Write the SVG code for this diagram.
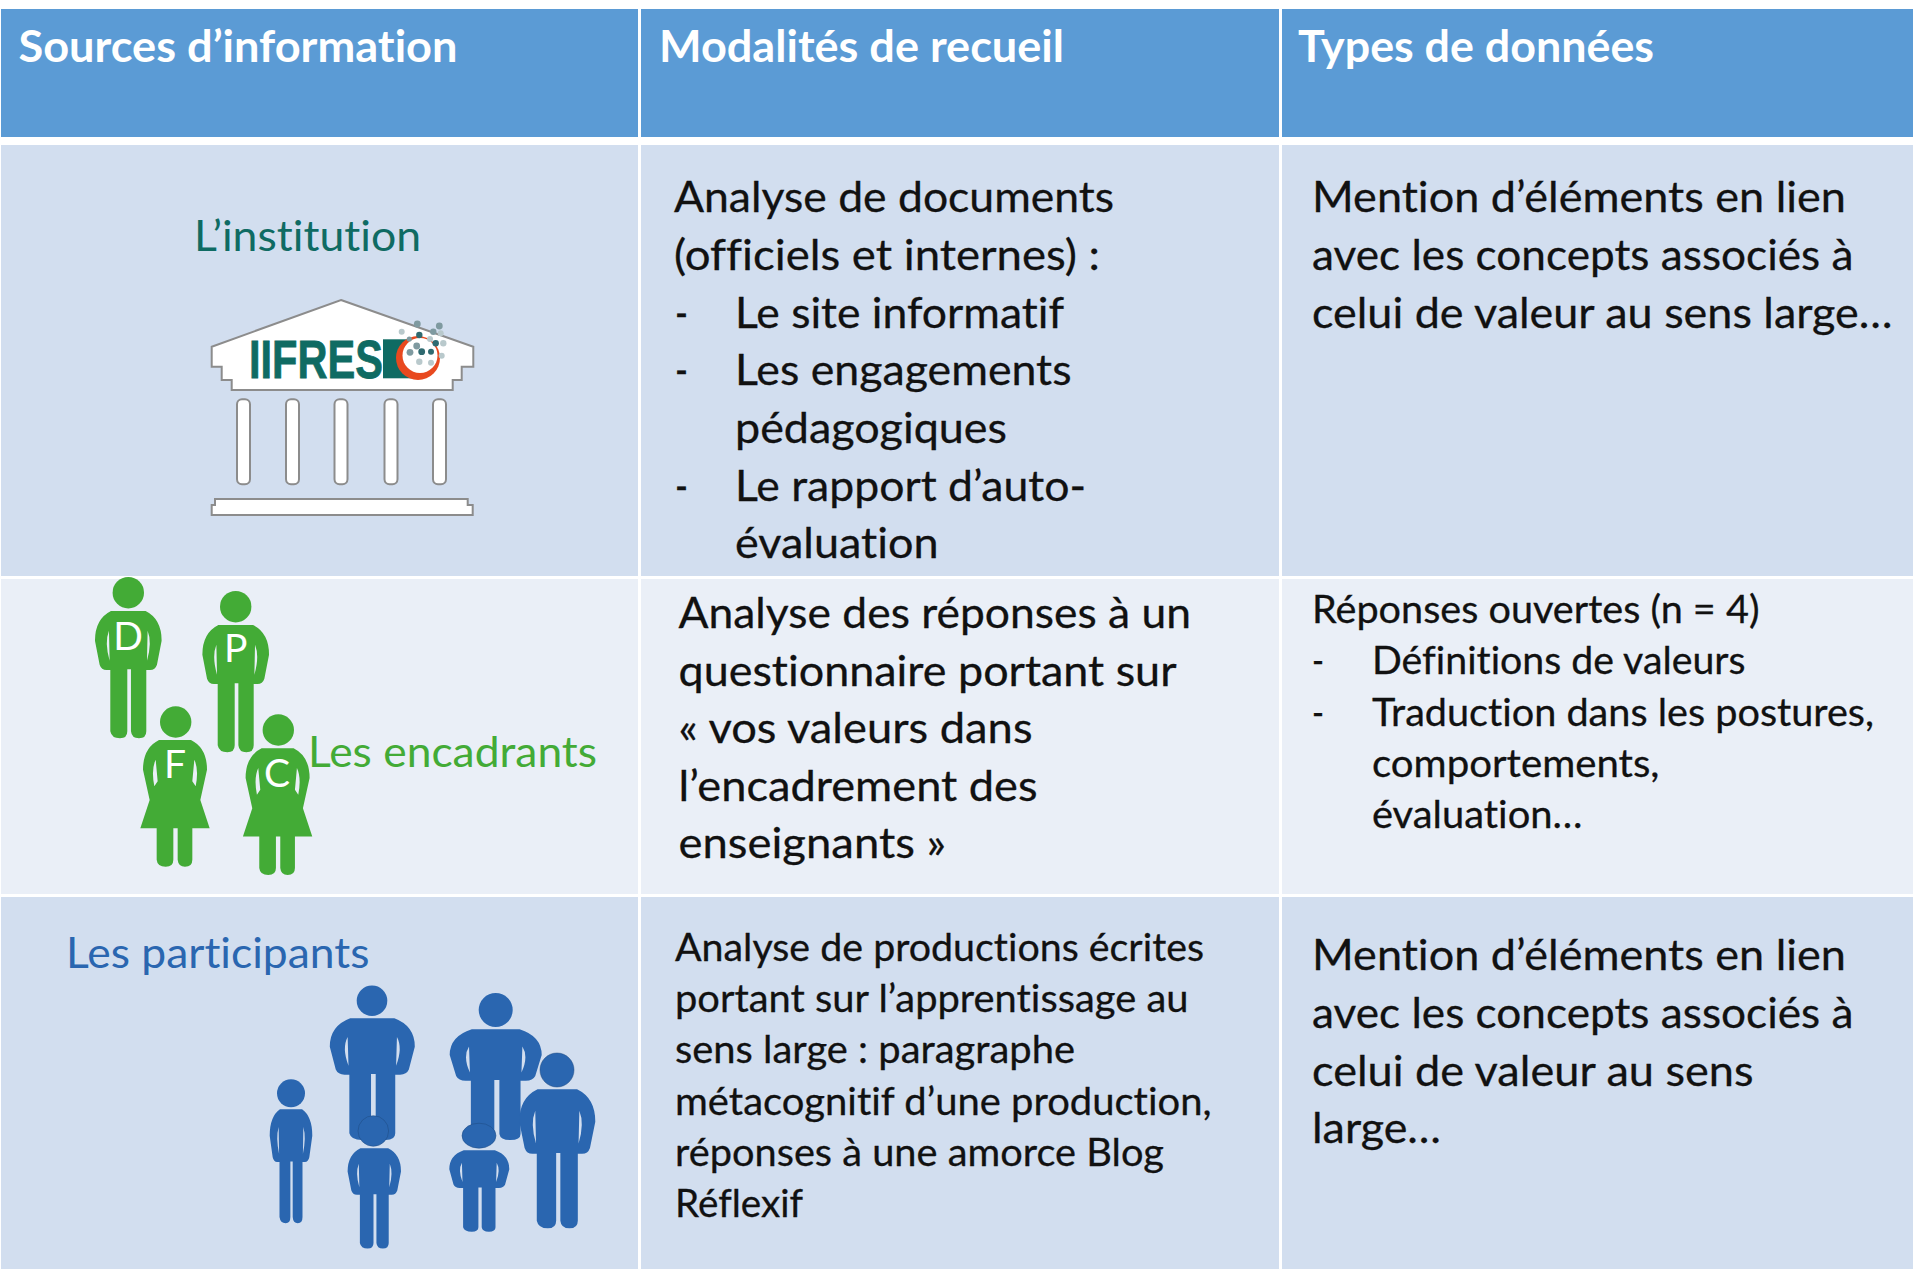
<svg xmlns="http://www.w3.org/2000/svg" width="1913" height="1271" viewBox="0 0 1913 1271">
<style>
text{font-family:Lato,"Open Sans","Noto Sans",sans-serif;font-variant-ligatures:none}
.h{font-size:43px;font-weight:700;fill:#fff}
.b{font-size:43px;fill:#111;stroke:#111;stroke-width:.3}
.s{font-size:38.5px;fill:#111;stroke:#111;stroke-width:.3}
.hd{fill:#5b9bd5}.r1{fill:#d2deef}.r2{fill:#eaeff7}
.ln{fill:#fff;stroke:#8c8c8c;stroke-width:2}
.g{fill:#43ab36}.bl{fill:#2a66b0}
.ol{stroke:#1f4a80;stroke-width:.5}
.let{font-size:39px;font-weight:400;fill:#fff;text-anchor:middle}
.d1{fill:#2f6a70}.d2{fill:#7f9aa0}.d3{fill:#b9c9cc}
.lg{font-size:54px;font-weight:700;font-family:"Liberation Sans",sans-serif}
</style>
<defs>
<path id="man" fill-rule="evenodd" d="M-52,0H52Q100,24 100,89L86,161Q80,179 62,177H54V361Q54,382 32,382Q10,382 8,361V175H-3V361Q-3,382-25,382Q-50,382-54,361V177H-62Q-80,179-86,161L-100,89Q-100,24-52,0ZM-58,59Q-72,94-56,149ZM58,59Q72,94 56,149Z"/>
<path id="woman" fill-rule="evenodd" d="M-48,0H48Q96,24 96,89L76,180L104,265H52V359Q52,380 30,380Q10,380 8,359V265H-5V359Q-5,380-28,380Q-53,380-55,359V265H-104L-76,180L-96,89Q-96,24-48,0ZM-58,59Q-72,89-62,139L-52,124ZM58,59Q72,89 62,139L52,124Z"/>
</defs>
<rect width="1913" height="1271" fill="#fff"/>
<g id="cells">
<rect class="hd" x="1" y="9" width="637" height="128"/><rect class="hd" x="641" y="9" width="638" height="128"/><rect class="hd" x="1282" y="9" width="631" height="128"/>
<rect class="r1" x="1" y="145" width="637" height="431"/><rect class="r1" x="641" y="145" width="638" height="431"/><rect class="r1" x="1282" y="145" width="631" height="431"/>
<rect class="r2" x="1" y="579" width="637" height="315"/><rect class="r2" x="641" y="579" width="638" height="315"/><rect class="r2" x="1282" y="579" width="631" height="315"/>
<rect class="r1" x="1" y="897" width="637" height="372"/><rect class="r1" x="641" y="897" width="638" height="372"/><rect class="r1" x="1282" y="897" width="631" height="372"/>
</g>
<g id="header">
<text class="h" x="18.5" y="62" textLength="439" lengthAdjust="spacingAndGlyphs">Sources d’information</text>
<text class="h" x="659" y="62" textLength="405" lengthAdjust="spacingAndGlyphs">Modalités de recueil</text>
<text class="h" x="1298" y="62" textLength="356" lengthAdjust="spacingAndGlyphs">Types de données</text>
</g>
<g id="institution">
<text x="194" y="251" font-size="43" fill="#0f6b63" textLength="227" lengthAdjust="spacingAndGlyphs">L’institution</text>
<polygon class="ln" points="341,300 473.3,346.7 473.3,366.7 461.7,366.7 461.7,380 452.7,380 452.7,390 231.7,390 231.7,380 221.7,380 221.7,366.7 211.7,366.7 211.7,346.7"/>
<rect class="ln" x="237" y="399.3" width="13" height="85" rx="5"/><rect class="ln" x="286" y="399.3" width="13" height="85" rx="5"/><rect class="ln" x="334.5" y="399.3" width="13" height="85" rx="5"/><rect class="ln" x="384.5" y="399.3" width="13" height="85" rx="5"/><rect class="ln" x="433" y="399.3" width="13" height="85" rx="5"/>
<polygon class="ln" points="215,499 467.7,499 467.7,505 472.7,505 472.7,515 211.7,515 211.7,505 215,505"/>
<rect x="383" y="339.3" width="30" height="39" fill="#0f6b63"/>
<text class="lg" x="249" y="378.3" fill="#0f6b63" stroke="#0f6b63" stroke-width=".8" textLength="134" lengthAdjust="spacingAndGlyphs">IIFRES</text>
<circle cx="418" cy="358" r="22" fill="#e8491f"/><circle cx="420" cy="355.5" r="17.5" fill="#fff"/>
<g id="logo-dots">
<circle class="d2" cx="417.3" cy="324" r="3.4"/><circle class="d2" cx="439.3" cy="326" r="3.4"/><circle class="d2" cx="433.3" cy="331.7" r="3.2"/><circle class="d1" cx="419.3" cy="335" r="3.2"/><circle class="d3" cx="401.7" cy="331.7" r="3"/><circle class="d3" cx="440.7" cy="333.3" r="3"/><circle class="d2" cx="409.3" cy="339" r="2.6"/><circle class="d1" cx="435.7" cy="343.3" r="3.2"/><circle class="d3" cx="430" cy="339" r="3"/><circle class="d3" cx="443.3" cy="343.3" r="3.2"/><circle class="d2" cx="416.7" cy="346" r="3.4"/><circle class="d2" cx="410" cy="352.3" r="3.4"/><circle class="d1" cx="421.7" cy="351.7" r="3.4"/><circle class="d1" cx="431" cy="351.7" r="3"/><circle class="d3" cx="441.7" cy="355.7" r="3"/><circle class="d3" cx="419.3" cy="361.7" r="3.2"/><circle class="d3" cx="431" cy="362.7" r="3"/>
</g>
</g>
<g id="row1-modalites">
<text class="b" x="674" y="212" textLength="440" lengthAdjust="spacingAndGlyphs">Analyse de documents</text>
<text class="b" x="674" y="269.5" textLength="426" lengthAdjust="spacingAndGlyphs">(officiels et internes) :</text>
<text class="b" x="675" y="328" textLength="13" lengthAdjust="spacingAndGlyphs">-</text>
<text class="b" x="735" y="328" textLength="329" lengthAdjust="spacingAndGlyphs">Le site informatif</text>
<text class="b" x="675" y="385" textLength="13" lengthAdjust="spacingAndGlyphs">-</text>
<text class="b" x="735" y="385" textLength="336.5" lengthAdjust="spacingAndGlyphs">Les engagements</text>
<text class="b" x="735" y="443" textLength="272" lengthAdjust="spacingAndGlyphs">pédagogiques</text>
<text class="b" x="675" y="500.5" textLength="13" lengthAdjust="spacingAndGlyphs">-</text>
<text class="b" x="735" y="500.5" textLength="351" lengthAdjust="spacingAndGlyphs">Le rapport d’auto-</text>
<text class="b" x="735" y="558" textLength="203.5" lengthAdjust="spacingAndGlyphs">évaluation</text>
</g>
<g id="row1-types">
<text class="b" x="1312" y="212" textLength="534" lengthAdjust="spacingAndGlyphs">Mention d’éléments en lien</text>
<text class="b" x="1312" y="269.5" textLength="541.5" lengthAdjust="spacingAndGlyphs">avec les concepts associés à</text>
<text class="b" x="1312" y="327.5" textLength="580.5" lengthAdjust="spacingAndGlyphs">celui de valeur au sens large…</text>
</g>
<g id="encadrants">
<text x="308" y="767" font-size="43" fill="#43ab36" textLength="289" lengthAdjust="spacingAndGlyphs">Les encadrants</text>
<g class="g">
<circle cx="128.3" cy="592.7" r="15.7"/><use href="#man" transform="translate(128.3,611) scale(.3333)"/>
<circle cx="235.7" cy="606.7" r="15.7"/><use href="#man" transform="translate(235.7,625) scale(.3333)"/>
<circle cx="175.7" cy="722" r="15.7"/><use href="#woman" transform="translate(175,740) scale(.3333)"/>
<circle cx="278.3" cy="730" r="15.7"/><use href="#woman" transform="translate(277.6,748.3) scale(.3333)"/>
</g>
<text class="let" x="128" y="650">D</text><text class="let" x="235.7" y="662">P</text><text class="let" x="175" y="778">F</text><text class="let" x="277" y="787">C</text>
</g>
<g id="row2-modalites">
<text class="b" x="678.5" y="628" textLength="512.5" lengthAdjust="spacingAndGlyphs">Analyse des réponses à un</text>
<text class="b" x="678.5" y="686" textLength="498" lengthAdjust="spacingAndGlyphs">questionnaire portant sur</text>
<text class="b" x="678.5" y="743" textLength="354" lengthAdjust="spacingAndGlyphs">« vos valeurs dans</text>
<text class="b" x="678.5" y="800.5" textLength="359" lengthAdjust="spacingAndGlyphs">l’encadrement des</text>
<text class="b" x="678.5" y="858" textLength="267.5" lengthAdjust="spacingAndGlyphs">enseignants »</text>
</g>
<g id="row2-types">
<text class="s" x="1312" y="623" textLength="447.5" lengthAdjust="spacingAndGlyphs">Réponses ouvertes (n = 4)</text>
<text class="s" x="1312" y="673.5" textLength="12" lengthAdjust="spacingAndGlyphs">-</text>
<text class="s" x="1372" y="673.5" textLength="373.5" lengthAdjust="spacingAndGlyphs">Définitions de valeurs</text>
<text class="s" x="1312" y="726" textLength="12" lengthAdjust="spacingAndGlyphs">-</text>
<text class="s" x="1372" y="726" textLength="502" lengthAdjust="spacingAndGlyphs">Traduction dans les postures,</text>
<text class="s" x="1372" y="777" textLength="287.5" lengthAdjust="spacingAndGlyphs">comportements,</text>
<text class="s" x="1372" y="828" textLength="210.5" lengthAdjust="spacingAndGlyphs">évaluation…</text>
</g>
<g id="participants">
<text x="66" y="967.5" font-size="43" fill="#2a66b0" textLength="303.5" lengthAdjust="spacingAndGlyphs">Les participants</text>
<g class="bl">
<circle cx="291" cy="1093.3" r="14"/><use href="#man" transform="translate(291,1109.3) scale(.213,.298)"/>
<circle cx="372" cy="1000.7" r="15.3"/><use href="#man" transform="translate(372.3,1018.3) scale(.425,.3185)"/>
<circle class="ol" cx="373.3" cy="1131" r="15.3"/><use href="#man" transform="translate(374.3,1148.3) scale(.267,.262)"/>
<circle cx="495.7" cy="1010" r="17"/><use href="#man" transform="translate(495.7,1029.3) scale(.46,.29)"/>
<ellipse class="ol" cx="479" cy="1135.7" rx="17" ry="12.5"/><use href="#man" transform="translate(479.3,1150.3) scale(.3,.213)"/>
<circle class="ol" cx="557" cy="1070" r="17"/><use href="#man" transform="translate(557.3,1089.3) scale(.38,.364)"/>
</g>
</g>
<g id="row3-modalites">
<text class="s" x="675" y="961" textLength="529" lengthAdjust="spacingAndGlyphs">Analyse de productions écrites</text>
<text class="s" x="675" y="1011.5" textLength="513.5" lengthAdjust="spacingAndGlyphs">portant sur l’apprentissage au</text>
<text class="s" x="675" y="1063" textLength="400" lengthAdjust="spacingAndGlyphs">sens large : paragraphe</text>
<text class="s" x="675" y="1115" textLength="536.5" lengthAdjust="spacingAndGlyphs">métacognitif d’une production,</text>
<text class="s" x="675" y="1166" textLength="489" lengthAdjust="spacingAndGlyphs">réponses à une amorce Blog</text>
<text class="s" x="675" y="1216.5" textLength="128" lengthAdjust="spacingAndGlyphs">Réflexif</text>
</g>
<g id="row3-types">
<text class="b" x="1312" y="970" textLength="534" lengthAdjust="spacingAndGlyphs">Mention d’éléments en lien</text>
<text class="b" x="1312" y="1028" textLength="541.5" lengthAdjust="spacingAndGlyphs">avec les concepts associés à</text>
<text class="b" x="1312" y="1085.5" textLength="441.5" lengthAdjust="spacingAndGlyphs">celui de valeur au sens</text>
<text class="b" x="1312" y="1143" textLength="129" lengthAdjust="spacingAndGlyphs">large…</text>
</g>
</svg>
